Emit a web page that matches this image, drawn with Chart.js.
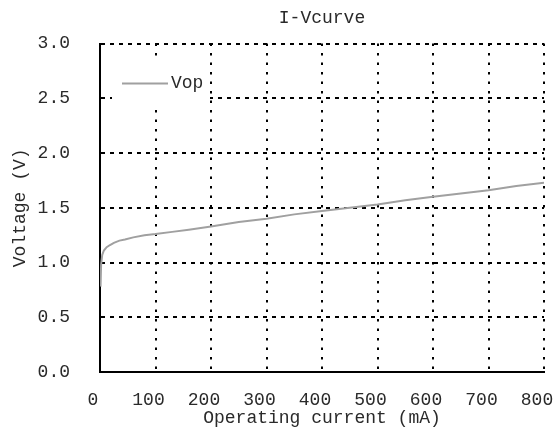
<!DOCTYPE html>
<html>
<head>
<meta charset="utf-8">
<script src="https://cdn.jsdelivr.net/npm/chart.js@4.4.1/dist/chart.umd.min.js"></script>
<style>
  html, body { margin: 0; padding: 0; background: #fff; }
  #wrap { width: 557px; height: 437px; position: relative; }
</style>
</head>
<body>
<div id="wrap"><canvas id="chart"></canvas></div>
<script>
  // I-V curve readings (operating current in mA, voltage in V)
  const currentMA = [1, 2, 4, 7, 12, 18, 25, 35, 45, 60, 80, 100, 130, 160, 200, 250,
    300, 350, 400, 450, 500, 550, 600, 650, 700, 750, 800];
  const voltageV = [0.78, 0.98, 1.07, 1.11, 1.14, 1.16, 1.18, 1.20, 1.21, 1.23, 1.25, 1.26,
    1.28, 1.30, 1.33, 1.37, 1.40, 1.44, 1.47, 1.50, 1.53, 1.57, 1.60, 1.63, 1.66, 1.70, 1.73];
  const seriesLabel = "Vop";
  const chartTitle = "I-Vcurve";
  const xTitle = "Operating current (mA)";
  const yTitle = "Voltage (V)";

  const FONT = "'Liberation Mono', 'Courier New', monospace";
  const INK = "#2a2a2a";
  const LINE = "#a0a0a0";

  // small boxed legend drawn over the grid, top-left inside the plot
  const boxLegend = {
    id: "boxLegend",
    afterDatasetsDraw(chart) {
      const { ctx, chartArea } = chart;
      const ds = chart.data.datasets[0];
      const x0 = chartArea.left + 12, y0 = chartArea.top + 16;
      ctx.save();
      ctx.fillStyle = "#fff";
      ctx.fillRect(x0, y0, 98, 50);
      ctx.strokeStyle = ds.borderColor;
      ctx.lineWidth = ds.borderWidth;
      ctx.beginPath();
      ctx.moveTo(x0 + 10, y0 + 24);
      ctx.lineTo(x0 + 56, y0 + 24);
      ctx.stroke();
      ctx.fillStyle = INK;
      ctx.font = "18px " + FONT;
      ctx.textBaseline = "middle";
      ctx.fillText(ds.label, x0 + 59, y0 + 24);
      ctx.restore();
    },
  };

  new Chart(document.getElementById("chart"), {
    type: "line",
    data: {
      datasets: [{
        label: seriesLabel,
        data: currentMA.map((x, i) => ({ x, y: voltageV[i] })),
        borderColor: LINE, backgroundColor: LINE,
        borderWidth: 2, pointRadius: 0, tension: 0,
      }],
    },
    options: {
      responsive: true, maintainAspectRatio: false, animation: false,
      layout: { padding: { left: 0, right: 13, top: 0, bottom: 0 } },
      scales: {
        x: {
          type: "linear", min: 0, max: 800,
          afterFit: (s) => { s.height = 65; s.paddingRight = 13; },
          grid: { color: "#000", lineWidth: 2, drawTicks: false },
          border: { display: true, color: "#000", width: 2, dash: [2.5, 7] },
          ticks: { stepSize: 100, color: INK, font: { family: FONT, size: 18 }, padding: 17, labelOffset: -7, maxRotation: 0 },
          title: { display: true, text: xTitle, color: INK, font: { family: FONT, size: 18 }, padding: { top: 0, bottom: 8 } },
        },
        y: {
          min: 0, max: 3,
          afterFit: (s) => { s.width = 100; },
          grid: { color: "#000", lineWidth: 2, drawTicks: false },
          border: { display: true, color: "#000", width: 2, dash: [4, 5] },
          ticks: { stepSize: 0.5, color: INK, font: { family: FONT, size: 18 }, padding: 30, callback: (v) => v.toFixed(1) },
          title: { display: true, text: yTitle, color: INK, font: { family: FONT, size: 18 }, padding: { top: 9, bottom: 0 } },
        },
      },
      plugins: {
        legend: { display: false },
        tooltip: { enabled: false },
        title: {
          display: true, text: chartTitle, color: INK, fullSize: false,
          font: { family: FONT, size: 18, weight: "normal" },
          padding: { top: 7, bottom: 15 },
        },
      },
    },
    plugins: [boxLegend],
  });
</script>
</body>
</html>
